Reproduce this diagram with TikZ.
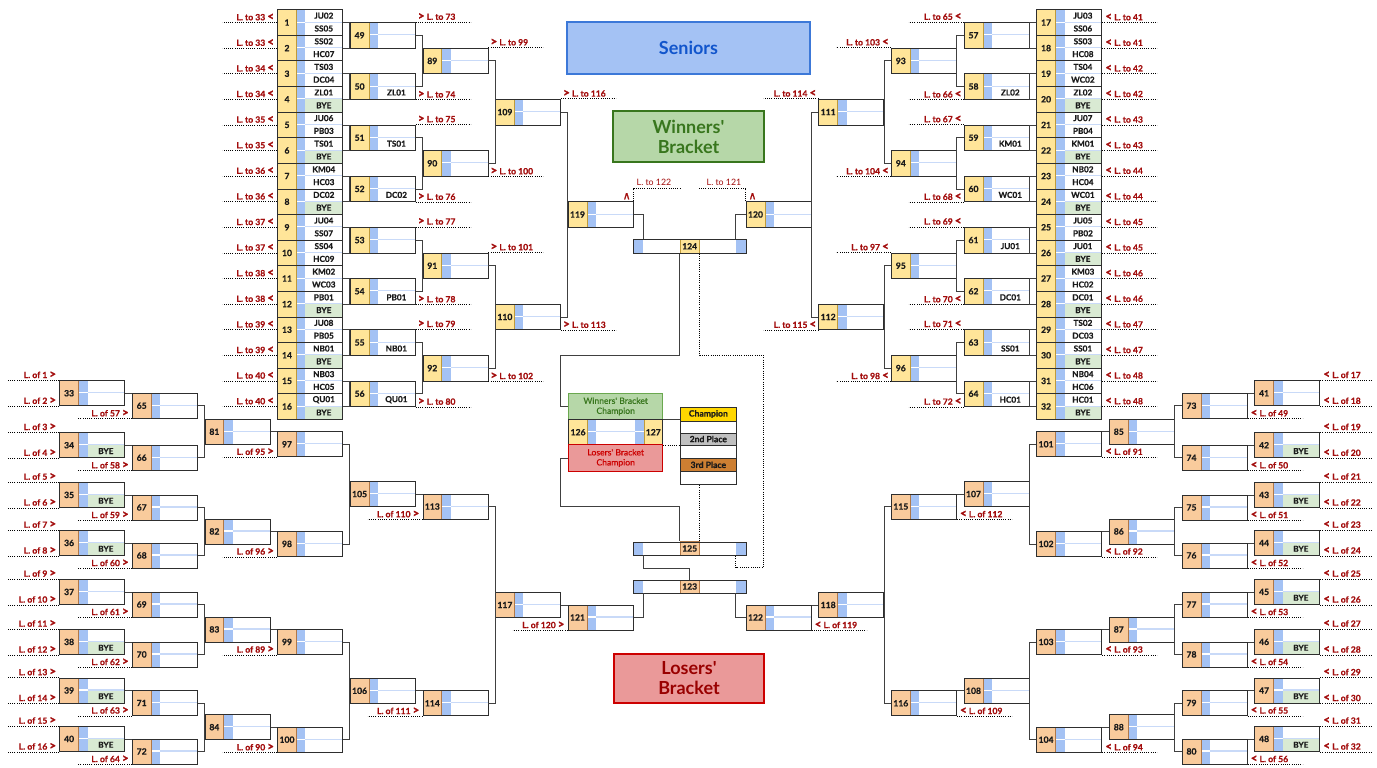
\documentclass[tikz,border=0pt]{standalone}
\usepackage{fontspec}
\setmainfont{Lato}
\newfontfamily\hv{Lato}[FakeBold=0.5]
\newfontfamily\hvv{Lato}[FakeBold=2]
\newfontfamily\djv{DejaVu Sans}[FakeBold=1.5]
\usetikzlibrary{calc}
\definecolor{numW}{HTML}{FFE599}
\definecolor{numWb}{HTML}{BF9A3A}
\definecolor{numL}{HTML}{F9CB9C}
\definecolor{numLb}{HTML}{B07848}
\definecolor{stripc}{HTML}{A4C2F4}
\definecolor{sepc}{HTML}{C9DAF8}
\definecolor{byec}{HTML}{D9EAD3}
\definecolor{boxc}{HTML}{2E2E2E}
\definecolor{connc}{HTML}{404040}
\definecolor{labc}{HTML}{A30D0D}
\definecolor{txtc}{HTML}{1A1A1A}
\definecolor{sFill}{HTML}{A4C2F4}
\definecolor{sDraw}{HTML}{3C78D8}
\definecolor{sText}{HTML}{1155CC}
\definecolor{wFill}{HTML}{B6D7A8}
\definecolor{wDraw}{HTML}{38761D}
\definecolor{wText}{HTML}{38761D}
\definecolor{wDraw2}{HTML}{6AA84F}
\definecolor{lFill}{HTML}{EA9999}
\definecolor{lDraw}{HTML}{CC0000}
\definecolor{lText}{HTML}{990000}
\definecolor{goldc}{HTML}{FFD700}
\definecolor{silverc}{HTML}{C0C0C0}
\definecolor{bronzec}{HTML}{CD7F32}
\newcommand\Lch{{\fontsize{11.5}{10}\selectfont\hvv\bfseries <}}
\newcommand\Rch{{\fontsize{11.5}{10}\selectfont\hvv\bfseries >}}
\tikzset{
  conn/.style={draw=connc,line width=0.9pt},
  dotl/.style={draw=black,line width=0.8pt,dash pattern=on 0.9pt off 1.3pt},
  lab/.style={font=\fontsize{8.6}{9}\selectfont\hv\bfseries,text=labc,inner sep=0pt},
  labr/.style={font=\fontsize{8.8}{9}\selectfont,text=labc,inner sep=0pt},
  nametxt/.style={font=\fontsize{8.2}{9}\selectfont\hv\bfseries,text=txtc,inner sep=0pt},
  numboxW/.style={anchor=north west,minimum width=18.8pt,inner sep=0pt,fill=numW,draw=numWb,line width=0.8pt,font=\fontsize{8.6}{9}\selectfont\hv\bfseries,text=txtc},
  numboxL/.style={anchor=north west,minimum width=18.8pt,inner sep=0pt,fill=numL,draw=numLb,line width=0.8pt,font=\fontsize{8.6}{9}\selectfont\hv\bfseries,text=txtc},
  barnumW/.style={minimum width=19.3pt,inner sep=0pt,fill=numW,draw=numWb,line width=0.8pt,font=\fontsize{8.6}{9}\selectfont\hv\bfseries,text=txtc},
  barnumL/.style={minimum width=19.3pt,inner sep=0pt,fill=numL,draw=numLb,line width=0.8pt,font=\fontsize{8.6}{9}\selectfont\hv\bfseries,text=txtc},
  matchbox/.style={anchor=north west,minimum width=65pt,inner sep=0pt,draw=boxc,line width=0.9pt},
  titlebox/.style={line width=1.5pt,inner sep=0pt,align=center,font=\fontsize{18}{20}\selectfont\bfseries},
  champlab/.style={minimum width=94pt,minimum height=26.6pt,inner sep=0pt,align=center,line width=0.8pt,font=\fontsize{8.6}{10}\selectfont\hv},
  hdr/.style={anchor=north west,minimum width=56pt,inner sep=0pt,draw=boxc,line width=0.7pt,font=\fontsize{8.6}{9}\selectfont\hv\bfseries,text=txtc},
  caret/.style={font=\fontsize{10.5}{11}\selectfont\djv,text=labc,inner sep=0pt,anchor=base},
}
\newcommand\MM[8]{%
  \pgfmathsetmacro\Yb{#3+#4}%
  \pgfmathsetmacro\Ym{#3+#4/2}%
  \pgfmathsetmacro\Ya{#3+#4/4}%
  \pgfmathsetmacro\Yc{#3+3*#4/4}%
  \pgfmathsetmacro\Xa{#2+18.8}%
  \pgfmathsetmacro\Xb{#2+28.2}%
  \pgfmathsetmacro\Xc{#2+65}%
  \pgfmathsetmacro\Xt{#2+46.6}%
  \fill[fill=#8] (\Xb,\Ym) rectangle (\Xc,\Yb);
  \fill[stripc] (\Xa,#3) rectangle (\Xb,\Yb);
  \draw[white,line width=1.1pt] (\Xa,\Ym) -- (\Xb,\Ym);
  \draw[sepc,line width=1.1pt] (\Xb,\Ym) -- (\Xc,\Ym);
  \node[numbox#5,minimum height=#4] (n#1) at (#2,#3) {#1};
  \node[nametxt] (a#1) at (\Xt,\Ya) {#6};
  \node[nametxt] (b#1) at (\Xt,\Yc) {#7};
  \node[matchbox,minimum height=#4] (m#1) at (#2,#3) {};
}
\newcommand\BarM[4]{%
  \pgfmathsetmacro\Yb{#2+#3}%
  \pgfmathsetmacro\Ym{#2+#3/2}%
  \fill[stripc] (633.3,#2) rectangle (643.3,\Yb);
  \fill[stripc] (735.7,#2) rectangle (745.7,\Yb);
  \node[barnum#4,minimum height=#3] (n#1) at (689.65,\Ym) {#1};
  \node[draw=boxc,line width=0.9pt,minimum width=112.4pt,minimum height=#3,inner sep=0pt,anchor=north west] (bar#1) at (633.3,#2) {};
}
\begin{document}
\begin{tikzpicture}[x=1pt,y=-1pt]
\useasboundingbox (0,0) rectangle (1377,768);
\fill[white] (0,0) rectangle (1377,768);

% ---------------- titles
\node[titlebox,draw=sDraw,fill=sFill,text=sText,minimum width=243pt,minimum height=52pt] (seniors) at (688.5,48) {Seniors};
\node[titlebox,draw=wDraw,fill=wFill,text=wText,minimum width=151pt,minimum height=51pt] (wtitle) at (688.5,136.5) {Winners\textquotesingle\\Bracket};
\node[titlebox,draw=lDraw,fill=lFill,text=lText,minimum width=150pt,minimum height=49pt] (ltitle) at (689,678.5) {Losers\textquotesingle\\Bracket};

% ================= WINNERS LEFT
\foreach \k/\ta/\tb/\fb in {1/JU02/SS05/white,2/SS02/HC07/white,3/TS03/DC04/white,4/ZL01/BYE/byec,5/JU06/PB03/white,6/TS01/BYE/byec,7/KM04/HC03/white,8/DC02/BYE/byec,9/JU04/SS07/white,10/SS04/HC09/white,11/KM02/WC03/white,12/PB01/BYE/byec,13/JU08/PB05/white,14/NB01/BYE/byec,15/NB03/HC05/white,16/QU01/BYE/byec}{
  \pgfmathsetmacro\T{9.3+(\k-1)*25.6}
  \pgfmathtruncatemacro\N{33+floor((\k-1)/2)}
  \MM{\k}{277.2}{\T}{25.6}{W}{\ta}{\tb}{\fb}
  \draw[dotl] (m\k.west) -- ++(-55,0);
  \node[lab,anchor=south east,xshift=-3pt,yshift=2pt] (lt\k) at (m\k.west) {L. to \N\ \Lch};
}
\foreach \k/\tb/\an/\N in {49//north east/73,50/ZL01/south east/74,51/TS01/north east/75,52/DC02/south east/76,53//north east/77,54/PB01/south east/78,55/NB01/north east/79,56/QU01/south east/80}{
  \pgfmathsetmacro\T{9.3+(2*(\k-48)-1)*25.6-12.8}
  \MM{\k}{349.8}{\T}{25.6}{W}{}{\tb}{white}
  \draw[dotl] (m\k.\an) -- ++(55,0);
  \node[lab,anchor=south west,xshift=2pt,yshift=2pt] (lt\k) at (m\k.\an) {\Rch\ L. to \N};
  \pgfmathtruncatemacro\pp{2*(\k-48)-1}
  \pgfmathtruncatemacro\qq{\pp+1}
  \draw[conn] (m\pp.east) -- (m\pp.east -| m\k.west) -- (m\qq.east -| m\k.west) -- (m\qq.east);
}
\foreach \k/\an/\N in {89/north east/99,90/south east/100,91/north east/101,92/south east/102}{
  \pgfmathsetmacro\T{9.3+(4*(\k-88)-2)*25.6-12.8}
  \MM{\k}{422.5}{\T}{25.6}{W}{}{}{white}
  \draw[dotl] (m\k.\an) -- ++(55,0);
  \node[lab,anchor=south west,xshift=2pt,yshift=2pt] (lt\k) at (m\k.\an) {\Rch\ L. to \N};
  \pgfmathtruncatemacro\pp{48+2*(\k-88)-1}
  \pgfmathtruncatemacro\qq{\pp+1}
  \draw[conn] (m\pp.east) -- (m\pp.east -| m\k.west) -- (m\qq.east -| m\k.west) -- (m\qq.east);
}
\foreach \k/\an/\N in {109/north east/116,110/south east/113}{
  \pgfmathsetmacro\T{9.3+(8*(\k-108)-4)*25.6-12.8}
  \MM{\k}{495.1}{\T}{25.6}{W}{}{}{white}
  \draw[dotl] (m\k.\an) -- ++(55,0);
  \node[lab,anchor=south west,xshift=2pt,yshift=2pt] (lt\k) at (m\k.\an) {\Rch\ L. to \N};
  \pgfmathtruncatemacro\pp{88+2*(\k-108)-1}
  \pgfmathtruncatemacro\qq{\pp+1}
  \draw[conn] (m\pp.east) -- (m\pp.east -| m\k.west) -- (m\qq.east -| m\k.west) -- (m\qq.east);
}
\MM{119}{567.7}{201.3}{25.6}{W}{}{}{white}
\draw[conn] (m109.east) -- (m109.east -| m119.west) -- (m110.east -| m119.west) -- (m110.east);

% ================= WINNERS RIGHT
\foreach \k/\ta/\tb/\fb in {17/JU03/SS06/white,18/SS03/HC08/white,19/TS04/WC02/white,20/ZL02/BYE/byec,21/JU07/PB04/white,22/KM01/BYE/byec,23/NB02/HC04/white,24/WC01/BYE/byec,25/JU05/PB02/white,26/JU01/BYE/byec,27/KM03/HC02/white,28/DC01/BYE/byec,29/TS02/DC03/white,30/SS01/BYE/byec,31/NB04/HC06/white,32/HC01/BYE/byec}{
  \pgfmathsetmacro\T{9.3+(\k-17)*25.6}
  \pgfmathtruncatemacro\N{41+floor((\k-17)/2)}
  \MM{\k}{1036.3}{\T}{25.6}{W}{\ta}{\tb}{\fb}
  \draw[dotl] (m\k.east) -- ++(55,0);
  \node[lab,anchor=south west,xshift=3pt,yshift=2pt] (lt\k) at (m\k.east) {\Lch\ L. to \N};
}
\foreach \k/\tb/\an/\N in {57//north west/65,58/ZL02/south west/66,59/KM01/north west/67,60/WC01/south west/68,61/JU01/north west/69,62/DC01/south west/70,63/SS01/north west/71,64/HC01/south west/72}{
  \pgfmathsetmacro\T{9.3+(2*(\k-56)-1)*25.6-12.8}
  \MM{\k}{963.7}{\T}{25.6}{W}{}{\tb}{white}
  \draw[dotl] (m\k.\an) -- ++(-55,0);
  \node[lab,anchor=south east,xshift=-2pt,yshift=2pt] (lt\k) at (m\k.\an) {L. to \N\ \Lch};
  \pgfmathtruncatemacro\pp{16+2*(\k-56)-1}
  \pgfmathtruncatemacro\qq{\pp+1}
  \draw[conn] (m\pp.west) -- (m\pp.west -| m\k.east) -- (m\qq.west -| m\k.east) -- (m\qq.west);
}
\foreach \k/\an/\N in {93/north west/103,94/south west/104,95/north west/97,96/south west/98}{
  \pgfmathsetmacro\T{9.3+(4*(\k-92)-2)*25.6-12.8}
  \MM{\k}{891.0}{\T}{25.6}{W}{}{}{white}
  \draw[dotl] (m\k.\an) -- ++(-55,0);
  \node[lab,anchor=south east,xshift=-2pt,yshift=2pt] (lt\k) at (m\k.\an) {L. to \N\ \Lch};
  \pgfmathtruncatemacro\pp{56+2*(\k-92)-1}
  \pgfmathtruncatemacro\qq{\pp+1}
  \draw[conn] (m\pp.west) -- (m\pp.west -| m\k.east) -- (m\qq.west -| m\k.east) -- (m\qq.west);
}
\foreach \k/\an/\N in {111/north west/114,112/south west/115}{
  \pgfmathsetmacro\T{9.3+(8*(\k-110)-4)*25.6-12.8}
  \MM{\k}{818.4}{\T}{25.6}{W}{}{}{white}
  \draw[dotl] (m\k.\an) -- ++(-55,0);
  \node[lab,anchor=south east,xshift=-2pt,yshift=2pt] (lt\k) at (m\k.\an) {L. to \N\ \Lch};
  \pgfmathtruncatemacro\pp{92+2*(\k-110)-1}
  \pgfmathtruncatemacro\qq{\pp+1}
  \draw[conn] (m\pp.west) -- (m\pp.west -| m\k.east) -- (m\qq.west -| m\k.east) -- (m\qq.west);
}
\MM{120}{745.7}{201.3}{25.6}{W}{}{}{white}
\draw[conn] (m111.west) -- (m111.west -| m120.east) -- (m112.west -| m120.east) -- (m112.west);

% labels over 119 / 120
\draw[dotl] (m119.north east) -- ++(0,-13.4) -- ++(47.4,0);
\draw[dotl] (m120.north west) -- ++(0,-13.4) -- ++(-46.4,0);
\node[labr] (lt119) at (654,182.5) {L. to 122};
\node[labr] (lt120) at (724,182.5) {L. to 121};
\node[caret] (up119) at (626.7,199.3) {∧};
\node[caret] (up120) at (752.5,199.3) {∧};

% ================= LOSERS LEFT
\foreach \k/\c/\tb/\fb/\la/\lb in {33/392.8//white/1/2,34/444.8/BYE/byec/3/4,35/494.5/BYE/byec/5/6,36/542.5/BYE/byec/7/8,37/591.5//white/9/10,38/641.5/BYE/byec/11/12,39/690/BYE/byec/13/14,40/738.5/BYE/byec/15/16}{
  \pgfmathsetmacro\T{\c-12.5}
  \MM{\k}{59.3}{\T}{25}{L}{}{\tb}{\fb}
  \draw[dotl] (m\k.north west) -- ++(-52,0);
  \draw[dotl] (m\k.south west) -- ++(-52,0);
  \node[lab,anchor=south east,xshift=-3pt,yshift=2pt] (lf\k) at (m\k.north west) {L. of \la\ \Rch};
  \node[lab,anchor=south east,xshift=-3pt,yshift=2pt] (lg\k) at (m\k.south west) {L. of \lb\ \Rch};
}
\foreach \k/\c/\lb in {65/392.8/57,66/444.8/58,67/494.5/59,68/542.5/60,69/591.5/61,70/641.5/62,71/690/63,72/738.5/64}{
  \MM{\k}{131.9}{\c}{25}{L}{}{}{white}
  \draw[dotl] (m\k.south west) -- ++(-54,0);
  \node[lab,anchor=south east,xshift=-3pt,yshift=2pt] (lg\k) at (m\k.south west) {L. of \lb\ \Rch};
  \pgfmathtruncatemacro\pp{\k-32}
  \draw[conn] (m\pp.east) -- (m\pp.east -| m\k.west);
}
\foreach \k/\c in {81/431.3,82/531,83/629,84/726.75}{
  \pgfmathsetmacro\T{\c-12.5}
  \MM{\k}{204.6}{\T}{25}{L}{}{}{white}
  \pgfmathtruncatemacro\pp{65+2*(\k-81)}
  \pgfmathtruncatemacro\qq{\pp+1}
  \draw[conn] (m\pp.east) -- (m\pp.east -| m\k.west) -- (m\qq.east -| m\k.west) -- (m\qq.east);
}
\foreach \k/\c/\lb in {97/431.3/95,98/531/96,99/629/89,100/726.75/90}{
  \MM{\k}{277.2}{\c}{25}{L}{}{}{white}
  \draw[dotl] (m\k.south west) -- ++(-55,0);
  \node[lab,anchor=south east,xshift=-3pt,yshift=2pt] (lg\k) at (m\k.south west) {L. of \lb\ \Rch};
  \pgfmathtruncatemacro\pp{\k-16}
  \draw[conn] (m\pp.east) -- (m\pp.east -| m\k.west);
}
\foreach \k/\c in {105/493.65,106/690.4}{
  \pgfmathsetmacro\T{\c-12.5}
  \MM{\k}{349.8}{\T}{25}{L}{}{}{white}
  \pgfmathtruncatemacro\pp{97+2*(\k-105)}
  \pgfmathtruncatemacro\qq{\pp+1}
  \draw[conn] (m\pp.east) -- (m\pp.east -| m\k.west) -- (m\qq.east -| m\k.west) -- (m\qq.east);
}
\foreach \k/\c/\lb in {113/493.65/110,114/690.4/111}{
  \MM{\k}{422.5}{\c}{25}{L}{}{}{white}
  \draw[dotl] (m\k.south west) -- ++(-55,0);
  \node[lab,anchor=south east,xshift=-3pt,yshift=2pt] (lg\k) at (m\k.south west) {L. of \lb\ \Rch};
  \pgfmathtruncatemacro\pp{\k-8}
  \draw[conn] (m\pp.east) -- (m\pp.east -| m\k.west);
}
\MM{117}{495.1}{592}{25}{L}{}{}{white}
\draw[conn] (m113.east) -- (m113.east -| m117.west) -- (m114.east -| m117.west) -- (m114.east);
\MM{121}{567.7}{604.5}{25}{L}{}{}{white}
\draw[conn] (m117.east) -- (m117.east -| m121.west);
\draw[dotl] (m121.south west) -- ++(-55,0);
\node[lab,anchor=south east,xshift=-3pt,yshift=2pt] (lg121) at (m121.south west) {L. of 120 \Rch};

% ================= LOSERS RIGHT
\foreach \k/\c/\tb/\fb/\la/\lb in {41/392.8//white/17/18,42/444.8/BYE/byec/19/20,43/494.5/BYE/byec/21/22,44/542.5/BYE/byec/23/24,45/591.5/BYE/byec/25/26,46/641.5/BYE/byec/27/28,47/690/BYE/byec/29/30,48/738.5/BYE/byec/31/32}{
  \pgfmathsetmacro\T{\c-12.5}
  \MM{\k}{1254.3}{\T}{25}{L}{}{\tb}{\fb}
  \draw[dotl] (m\k.north east) -- ++(51,0);
  \draw[dotl] (m\k.south east) -- ++(51,0);
  \node[lab,anchor=south west,xshift=3pt,yshift=2pt] (lf\k) at (m\k.north east) {\Lch\ L. of \la};
  \node[lab,anchor=south west,xshift=3pt,yshift=2pt] (lg\k) at (m\k.south east) {\Lch\ L. of \lb};
}
\foreach \k/\c/\lb in {73/392.8/49,74/444.8/50,75/494.5/51,76/542.5/52,77/591.5/53,78/641.5/54,79/690/55,80/738.5/56}{
  \MM{\k}{1181.7}{\c}{25}{L}{}{}{white}
  \draw[dotl] (m\k.south east) -- ++(55,0);
  \node[lab,anchor=south west,xshift=3pt,yshift=2pt] (lg\k) at (m\k.south east) {\Lch\ L. of \lb};
  \pgfmathtruncatemacro\pp{\k-32}
  \draw[conn] (m\pp.west) -- (m\pp.west -| m\k.east);
}
\foreach \k/\c in {85/431.3,86/531,87/629,88/726.75}{
  \pgfmathsetmacro\T{\c-12.5}
  \MM{\k}{1109.0}{\T}{25}{L}{}{}{white}
  \pgfmathtruncatemacro\pp{73+2*(\k-85)}
  \pgfmathtruncatemacro\qq{\pp+1}
  \draw[conn] (m\pp.west) -- (m\pp.west -| m\k.east) -- (m\qq.west -| m\k.east) -- (m\qq.west);
}
\foreach \k/\c/\lb in {101/431.3/91,102/531/92,103/629/93,104/726.75/94}{
  \MM{\k}{1036.3}{\c}{25}{L}{}{}{white}
  \draw[dotl] (m\k.south east) -- ++(55,0);
  \node[lab,anchor=south west,xshift=3pt,yshift=2pt] (lg\k) at (m\k.south east) {\Lch\ L. of \lb};
  \pgfmathtruncatemacro\pp{\k-16}
  \draw[conn] (m\pp.west) -- (m\pp.west -| m\k.east);
}
\foreach \k/\c in {107/493.65,108/690.4}{
  \pgfmathsetmacro\T{\c-12.5}
  \MM{\k}{963.7}{\T}{25}{L}{}{}{white}
  \pgfmathtruncatemacro\pp{101+2*(\k-107)}
  \pgfmathtruncatemacro\qq{\pp+1}
  \draw[conn] (m\pp.west) -- (m\pp.west -| m\k.east) -- (m\qq.west -| m\k.east) -- (m\qq.west);
}
\foreach \k/\c/\lb in {115/493.65/112,116/690.4/109}{
  \MM{\k}{891.0}{\c}{25}{L}{}{}{white}
  \draw[dotl] (m\k.south east) -- ++(55,0);
  \node[lab,anchor=south west,xshift=3pt,yshift=2pt] (lg\k) at (m\k.south east) {\Lch\ L. of \lb};
  \pgfmathtruncatemacro\pp{\k-8}
  \draw[conn] (m\pp.west) -- (m\pp.west -| m\k.east);
}
\MM{118}{818.4}{592}{25}{L}{}{}{white}
\draw[conn] (m115.west) -- (m115.west -| m118.east) -- (m116.west -| m118.east) -- (m116.west);
\MM{122}{745.7}{604.5}{25}{L}{}{}{white}
\draw[conn] (m118.west) -- (m118.west -| m122.east);
\draw[dotl] (m122.south east) -- ++(55,0);
\node[lab,anchor=south west,xshift=3pt,yshift=2pt] (lg122) at (m122.south east) {\Lch\ L. of 119};

% ================= FINALS
\BarM{124}{239.3}{14}{W}
\BarM{125}{541.7}{13.5}{L}
\BarM{123}{580}{13}{L}
\coordinate (c124a) at (643.3,239.3);
\coordinate (c124b) at (735.7,239.3);
\coordinate (c125d) at (643.3,555.2);
\coordinate (c125r) at (735.7,555.2);
\coordinate (c123a) at (643.3,593);
\coordinate (c123b) at (735.7,593);
\coordinate (j1) at (560.7,355);
\coordinate (j2) at (763.3,355);
\coordinate (j3) at (763.3,567.7);
\coordinate (j4) at (560.7,506);

\draw[conn] (m119.east) -| (c124a);
\draw[conn] (m120.west) -| (c124b);
\draw[conn] (m121.east) -| (c123a);
\draw[conn] (m122.west) -| (c123b);
\draw[conn] (c125d) -- ++(0,13.1) -| (n123.north);

% champion block
\node[champlab,anchor=north west,draw=wDraw2,fill=wFill,text=wDraw] (wbc) at (568.3,392.7) {Winners\textquotesingle\ Bracket\\Champion};
\fill[stripc] (587.1,419.3) rectangle (595.7,444.3);
\fill[stripc] (635,419.3) rectangle (643.5,444.3);
\draw[white,line width=1.1pt] (587.1,431.8) -- (595.7,431.8);
\draw[white,line width=1.1pt] (635,431.8) -- (643.5,431.8);
\draw[sepc,line width=1.1pt] (595.7,431.8) -- (635,431.8);
\node[numboxW,minimum height=25pt] (n126) at (568.3,419.3) {126};
\node[numboxW,minimum height=25pt] (n127) at (643.5,419.3) {127};
\node[draw=boxc,line width=0.9pt,minimum width=94pt,minimum height=25pt,inner sep=0pt,anchor=north west] (m126) at (568.3,419.3) {};
\node[champlab,anchor=north west,draw=lDraw,fill=lFill,text=lDraw] (lbc) at (568.3,444.3) {Losers\textquotesingle\ Bracket\\Champion};

\node[hdr,fill=goldc,minimum height=14pt] (hchamp) at (680,406.7) {Champion};
\node[hdr,fill=silverc,minimum height=12pt] (hsecond) at (680,432.7) {2nd Place};
\node[hdr,fill=bronzec,minimum height=13.5pt] (hthird) at (680,457.7) {3rd Place};
\node[draw=boxc,line width=0.9pt,anchor=north west,minimum width=56pt,minimum height=77.6pt,inner sep=0pt] (champ) at (680,406.7) {};

\draw[conn] (n124.south west) |- (j1) |- (wbc.west);
\draw[dotl] (n124.south east) |- (j2) -- (j3) -| (c125r);
\draw[conn] (lbc.west) -| (j4) -| (n125.north west);
\draw[conn] (n127.north east) -- (n127.north east -| champ.west);
\draw[dotl] (n127.south east) -- (n127.south east -| champ.west);
\draw[dotl] (champ.south -| n125.east) -- (n125.north east);
\end{tikzpicture}
\end{document}
